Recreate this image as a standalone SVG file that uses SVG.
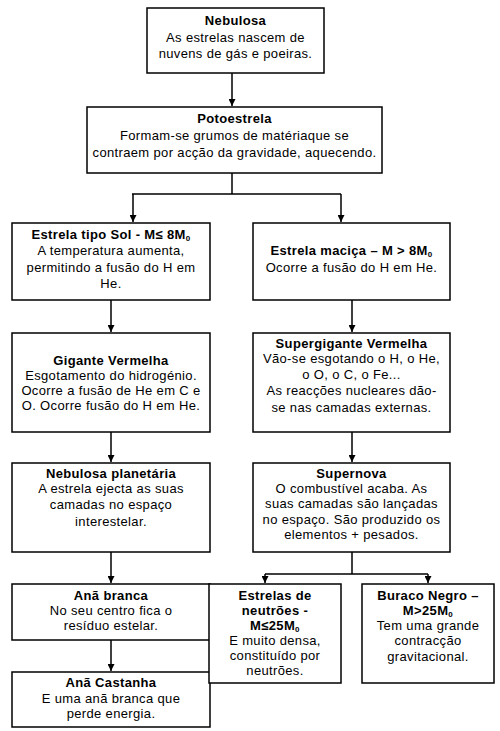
<svg xmlns="http://www.w3.org/2000/svg" width="500" height="731" viewBox="0 0 500 731">
<defs>
<marker id="arr" viewBox="0 0 8 8" refX="8" refY="4" markerWidth="7" markerHeight="7" markerUnits="userSpaceOnUse" orient="auto">
<path d="M0,0 L8,4 L0,8 Z" fill="#000"/>
</marker>
<style>
.box{fill:#fff;stroke:#000;stroke-width:1.5}
text{font-family:"Liberation Sans",Arial,sans-serif;font-size:13px;letter-spacing:0.35px;fill:#000;text-anchor:middle}
.t{font-weight:bold}
.sub{font-size:8px}
.c{fill:none;stroke:#000;stroke-width:1.5}
</style>
</defs>
<rect width="500" height="731" fill="#fff"/>
<g id="connectors">
<path class="c" d="M232,73 V106" marker-end="url(#arr)"/>
<path class="c" d="M232,173 V194 M132,194 H341"/>
<path class="c" d="M133,194 V222" marker-end="url(#arr)"/>
<path class="c" d="M341,194 V222" marker-end="url(#arr)"/>
<path class="c" d="M111,300 V332" marker-end="url(#arr)"/>
<path class="c" d="M111,432 V462" marker-end="url(#arr)"/>
<path class="c" d="M111,552 V583" marker-end="url(#arr)"/>
<path class="c" d="M111,640 V671" marker-end="url(#arr)"/>
<path class="c" d="M352,300 V332" marker-end="url(#arr)"/>
<path class="c" d="M352,432 V462" marker-end="url(#arr)"/>
<path class="c" d="M352,552 V574 M265,574 H428"/>
<path class="c" d="M265,574 V583" marker-end="url(#arr)"/>
<path class="c" d="M428,574 V583" marker-end="url(#arr)"/>
</g>
<g id="nebulosa">
<rect class="box" x="147" y="8" width="177" height="65"/>
<text class="t" x="235.5" y="25">Nebulosa</text>
<text x="235.5" y="42">As estrelas nascem de</text>
<text x="235.5" y="58">nuvens de gás e poeiras.</text>
</g>
<g id="potoestrela">
<rect class="box" x="87" y="107" width="295" height="66"/>
<text class="t" x="234.5" y="123">Potoestrela</text>
<text x="234.5" y="140">Formam-se grumos de matériaque se</text>
<text x="234.5" y="157">contraem por acção da gravidade, aquecendo.</text>
</g>
<g id="estrela-sol">
<rect class="box" x="12" y="223" width="198" height="77"/>
<text class="t" x="111" y="239">Estrela tipo Sol - M≤ 8M<tspan class="sub" dy="2">0</tspan></text>
<text x="111" y="255">A temperatura aumenta,</text>
<text x="111" y="272">permitindo a fusão do H em</text>
<text x="111" y="288">He.</text>
</g>
<g id="estrela-macica">
<rect class="box" x="253" y="223" width="197" height="77"/>
<text class="t" x="351.5" y="255">Estrela maciça – M &gt; 8M<tspan class="sub" dy="2">0</tspan></text>
<text x="351.5" y="272">Ocorre a fusão do H em He.</text>
</g>
<g id="gigante-vermelha">
<rect class="box" x="12" y="333" width="198" height="99"/>
<text class="t" x="111" y="365">Gigante Vermelha</text>
<text x="111" y="380">Esgotamento do hidrogénio.</text>
<text x="111" y="395">Ocorre a fusão de He em C e</text>
<text x="111" y="410">O. Ocorre fusão do H em He.</text>
</g>
<g id="supergigante">
<rect class="box" x="253" y="333" width="197" height="99"/>
<text class="t" x="351.5" y="348">Supergigante Vermelha</text>
<text x="351.5" y="363">Vão-se esgotando o H, o He,</text>
<text x="351.5" y="379">o O, o C, o Fe...</text>
<text x="351.5" y="395">As reacções nucleares dão-</text>
<text x="351.5" y="412">se nas camadas externas.</text>
</g>
<g id="nebulosa-planetaria">
<rect class="box" x="12" y="463" width="198" height="89"/>
<text class="t" x="111" y="478">Nebulosa planetária</text>
<text x="111" y="493">A estrela ejecta as suas</text>
<text x="111" y="509">camadas no espaço</text>
<text x="111" y="526">interestelar.</text>
</g>
<g id="supernova">
<rect class="box" x="253" y="463" width="197" height="89"/>
<text class="t" x="351.5" y="478">Supernova</text>
<text x="351.5" y="493">O combustível acaba. As</text>
<text x="351.5" y="508">suas camadas são lançadas</text>
<text x="351.5" y="524">no espaço. São produzido os</text>
<text x="351.5" y="539">elementos + pesados.</text>
</g>
<g id="ana-branca">
<rect class="box" x="12" y="584" width="198" height="56"/>
<text class="t" x="111" y="600">Anã branca</text>
<text x="111" y="615">No seu centro fica o</text>
<text x="111" y="630">resíduo estelar.</text>
</g>
<g id="ana-castanha">
<rect class="box" x="12" y="672" width="198" height="55"/>
<text class="t" x="111" y="687">Anã Castanha</text>
<text x="111" y="703">E uma anã branca que</text>
<text x="111" y="718">perde energia.</text>
</g>
<g id="estrelas-neutroes">
<rect class="box" x="209" y="584" width="132" height="99"/>
<text class="t" x="275" y="600">Estrelas de</text>
<text class="t" x="275" y="615">neutrões -</text>
<text class="t" x="275" y="630">M≤25M<tspan class="sub" dy="2">0</tspan></text>
<text x="275" y="645">E muito densa,</text>
<text x="275" y="660">constituído por</text>
<text x="275" y="675">neutrões.</text>
</g>
<g id="buraco-negro">
<rect class="box" x="362" y="584" width="132" height="99"/>
<text class="t" x="428" y="600">Buraco Negro –</text>
<text class="t" x="428" y="615">M&gt;25M<tspan class="sub" dy="2">0</tspan></text>
<text x="428" y="630">Tem uma grande</text>
<text x="428" y="645">contracção</text>
<text x="428" y="661">gravitacional.</text>
</g>
</svg>
